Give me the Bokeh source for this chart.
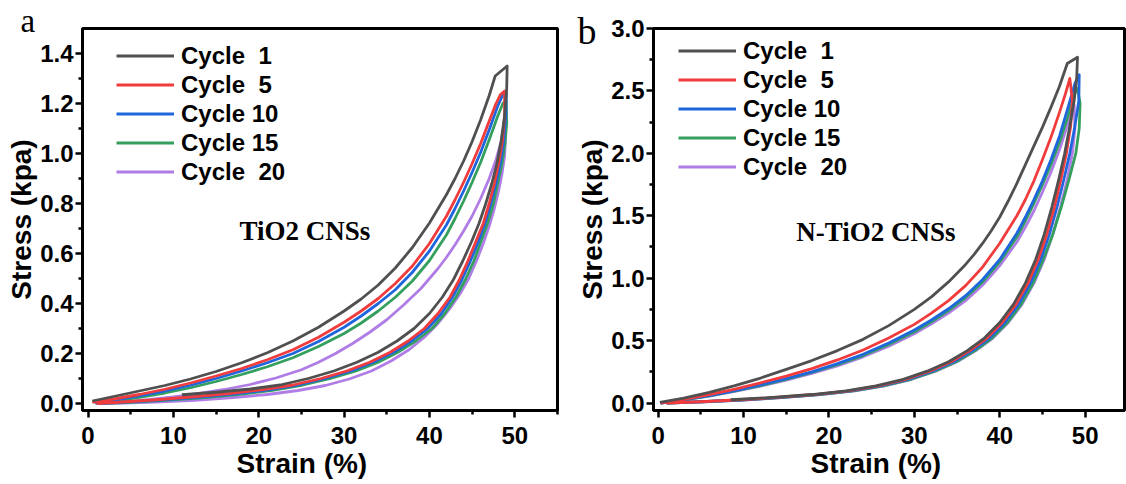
from bokeh.plotting import figure
from bokeh.models import Range1d, FixedTicker, PrintfTickFormatter, Legend, LegendItem, Label, Title
from bokeh.layouts import row
from bokeh.embed import file_html
from bokeh.resources import INLINE

cycles = ["Cycle  1", "Cycle  5", "Cycle 10", "Cycle 15", "Cycle  20"]
colors = ["#505050", "#f03c3c", "#1f66dd", "#35a05e", "#b07de6"]

# ---------- panel a : TiO2 CNSs (loading branch, then unloading branch) ----------
a1_x = [0.5, 3, 6, 9, 12, 15, 18, 21, 24, 27, 30, 32, 34, 36, 38, 40, 42, 43, 44, 45, 46, 47, 47.7, 49.1,
        49.05, 48.8, 48.4, 47.9, 47.3, 46.6, 45.8, 44.9, 43.9, 42.8, 41.5, 40.0, 38.2, 36.2, 34.0, 31.5,
        28.8, 25.8, 22.5, 19, 15, 11]
a1_y = [0.01, 0.028, 0.05, 0.072, 0.098, 0.128, 0.163, 0.203, 0.25, 0.305, 0.37, 0.418, 0.474, 0.542, 0.624,
        0.722, 0.836, 0.90, 0.97, 1.048, 1.135, 1.232, 1.31, 1.35,
        1.26, 1.15, 1.05, 0.96, 0.88, 0.80, 0.72, 0.645, 0.57, 0.495, 0.425, 0.36, 0.30, 0.25, 0.205, 0.165,
        0.13, 0.1, 0.074, 0.058, 0.045, 0.035]
a5_x = [0.5, 3, 6, 9, 12, 15, 18, 21, 24, 27, 30, 32, 34, 36, 38, 40, 42, 43, 44, 45, 46, 47, 47.8, 48.3, 48.8,
        48.8, 48.55, 48.1, 47.6, 47.0, 46.3, 45.4, 44.5, 43.5, 42.4, 41.0, 39.4, 37.5, 35.4, 33.0, 30.3,
        27.3, 24, 20.5, 16.5, 12, 8, 4, 1]
a5_y = [0.005, 0.018, 0.036, 0.057, 0.082, 0.11, 0.14, 0.175, 0.215, 0.265, 0.325, 0.37, 0.42, 0.48, 0.55,
        0.64, 0.75, 0.815, 0.885, 0.96, 1.04, 1.13, 1.2, 1.235, 1.25,
        1.15, 1.05, 0.96, 0.88, 0.80, 0.72, 0.645, 0.57, 0.495, 0.425, 0.36, 0.30, 0.25, 0.205, 0.165, 0.13,
        0.1, 0.074, 0.056, 0.04, 0.026, 0.015, 0.006, 0.0]
a10_x = [0.8, 3, 6, 9, 12, 15, 18, 21, 24, 27, 30, 32, 34, 36, 38, 40, 42, 43, 44, 45, 46, 47, 48, 48.6, 49.0,
         48.95, 48.7, 48.3, 47.8, 47.2, 46.5, 45.7, 44.8, 43.8, 42.7, 41.4, 39.8, 37.9, 35.8, 33.4, 30.8,
         27.8, 24.6, 21, 17, 12.5, 8, 4, 1]
a10_y = [0.003, 0.014, 0.031, 0.05, 0.073, 0.1, 0.13, 0.163, 0.2, 0.248, 0.305, 0.35, 0.4, 0.455, 0.525,
         0.61, 0.715, 0.78, 0.85, 0.925, 1.005, 1.095, 1.19, 1.235, 1.24,
         1.15, 1.05, 0.96, 0.88, 0.80, 0.72, 0.645, 0.57, 0.495, 0.425, 0.36, 0.30, 0.25, 0.205, 0.165, 0.13,
         0.1, 0.074, 0.054, 0.038, 0.024, 0.013, 0.005, 0.0]
a15_x = [1, 3, 6, 9, 12, 15, 18, 21, 24, 27, 30, 32, 34, 36, 38, 40, 42, 43, 44, 45, 46, 47, 48, 48.6, 49.0,
         49.05, 48.85, 48.5, 48.0, 47.5, 46.8, 46.0, 45.2, 44.2, 43.1, 41.8, 40.3, 38.4, 36.3, 34.0, 31.4,
         28.4, 25.2, 21.6, 17.5, 13, 8.5, 4.5, 1]
a15_y = [0.002, 0.01, 0.025, 0.042, 0.063, 0.088, 0.116, 0.147, 0.183, 0.228, 0.28, 0.322, 0.37, 0.425, 0.49,
         0.572, 0.675, 0.74, 0.81, 0.885, 0.965, 1.055, 1.15, 1.2, 1.21,
         1.12, 1.04, 0.96, 0.88, 0.80, 0.72, 0.645, 0.57, 0.495, 0.425, 0.36, 0.30, 0.25, 0.205, 0.165, 0.13,
         0.1, 0.074, 0.053, 0.036, 0.022, 0.012, 0.004, 0.0]
a20_x = [1, 4, 7, 10, 13, 16, 19, 22, 25, 27, 29, 31, 33, 35, 37, 39, 41, 42, 43, 44, 45, 46, 47, 47.8, 48.4, 48.8,
         48.9, 48.8, 48.5, 48.1, 47.6, 47.0, 46.3, 45.5, 44.6, 43.6, 42.4, 41.0, 39.4, 37.6, 35.5, 33.2,
         30.6, 27.8, 24.6, 21, 17, 12.5, 8, 4, 1]
a20_y = [0.0, 0.006, 0.015, 0.026, 0.04, 0.056, 0.076, 0.102, 0.135, 0.165, 0.2, 0.24, 0.285, 0.335, 0.395,
         0.46, 0.54, 0.585, 0.635, 0.69, 0.75, 0.82, 0.9, 0.975, 1.05, 1.13,
         1.06, 0.99, 0.92, 0.85, 0.78, 0.71, 0.64, 0.57, 0.50, 0.44, 0.38, 0.32, 0.265, 0.215, 0.17, 0.13,
         0.098, 0.072, 0.052, 0.036, 0.024, 0.013, 0.006, 0.002, 0.0]

# ---------- panel b : N-TiO2 CNSs ----------
b1_x = [0.2, 3, 6, 9, 12, 15, 18, 21, 24, 27, 30, 32, 34, 36, 37, 38, 39, 40, 41, 42, 43, 44, 45, 46, 47, 47.9,
        49.1,
        49.0, 48.7, 48.2, 47.6, 46.9, 46.1, 45.2, 44.2, 43.0, 41.6, 40.0, 38.2, 36.2, 34.0, 31.5, 28.7,
        25.5, 22, 18, 13, 8.5]
b1_y = [0.005, 0.04, 0.085, 0.14, 0.2, 0.27, 0.34, 0.42, 0.51, 0.62, 0.75, 0.85, 0.97, 1.11, 1.19, 1.28, 1.38,
        1.49, 1.62, 1.76, 1.91, 2.06, 2.21, 2.37, 2.54, 2.72, 2.77,
        2.6, 2.42, 2.22, 2.0, 1.79, 1.57, 1.35, 1.15, 0.96, 0.79, 0.645, 0.52, 0.42, 0.33, 0.255, 0.19,
        0.138, 0.098, 0.068, 0.043, 0.026]
b5_x = [0.3, 3, 6, 9, 12, 15, 18, 21, 24, 27, 30, 32, 34, 36, 38, 40, 42, 43, 44, 45, 46, 47, 47.7, 48.2,
        48.5, 48.3, 47.8, 47.15, 46.4, 45.5, 44.5, 43.3, 41.9, 40.3, 38.5, 36.5, 34.3, 31.8, 29,
        25.8, 22.3, 18.3, 13.5, 9, 5, 1]
b5_y = [0.0, 0.03, 0.068, 0.112, 0.162, 0.215, 0.275, 0.345, 0.425, 0.52, 0.63, 0.72, 0.82, 0.94, 1.09, 1.28,
        1.5, 1.63, 1.78, 1.95, 2.13, 2.33, 2.48, 2.6,
        2.42, 2.22, 2.0, 1.79, 1.57, 1.35, 1.15, 0.96, 0.79, 0.645, 0.52, 0.42, 0.33, 0.255, 0.19,
        0.138, 0.098, 0.068, 0.043, 0.024, 0.01, 0.0]
b10_x = [0.3, 3, 6, 9, 12, 15, 18, 21, 24, 27, 30, 32, 34, 36, 38, 40, 42, 43, 44, 45, 46, 47, 48, 48.8, 49.3,
         49.25, 48.8, 48.2, 47.5, 46.7, 45.8, 44.8, 43.6, 42.2, 40.6, 38.8, 36.8, 34.6, 32.1, 29.3,
         26.1, 22.6, 18.6, 14, 9.5, 5, 1]
b10_y = [0.0, 0.027, 0.06, 0.1, 0.145, 0.195, 0.25, 0.315, 0.39, 0.48, 0.585, 0.665, 0.755, 0.86, 0.99, 1.15,
         1.36, 1.49, 1.63, 1.78, 1.95, 2.14, 2.37, 2.56, 2.63,
         2.42, 2.22, 2.0, 1.79, 1.57, 1.35, 1.15, 0.96, 0.79, 0.645, 0.52, 0.42, 0.33, 0.255, 0.19,
         0.138, 0.098, 0.068, 0.043, 0.024, 0.01, 0.0]
b15_x = [0.3, 3, 6, 9, 12, 15, 18, 21, 24, 27, 30, 32, 34, 36, 38, 40, 42, 43, 44, 45, 46, 47, 48, 48.7, 49.1,
         49.4, 49.3, 48.9, 48.1, 47.2, 46.2, 45.1, 43.9, 42.5, 40.9, 39.1, 37.1, 34.9, 32.4, 29.6,
         26.4, 22.9, 18.9, 14.3, 9.7, 5.2, 1]
b15_y = [0.0, 0.026, 0.058, 0.097, 0.14, 0.19, 0.245, 0.308, 0.38, 0.468, 0.57, 0.65, 0.74, 0.845, 0.97, 1.13,
         1.33, 1.46, 1.6, 1.75, 1.91, 2.09, 2.3, 2.47, 2.52,
         2.4, 2.2, 2.0, 1.79, 1.57, 1.35, 1.15, 0.96, 0.79, 0.645, 0.52, 0.42, 0.33, 0.255, 0.19,
         0.138, 0.098, 0.068, 0.043, 0.024, 0.01, 0.0]
b20_x = [0.3, 3, 6, 9, 12, 15, 18, 21, 24, 27, 30, 32, 34, 36, 38, 40, 42, 43, 44, 45, 46, 47, 47.8, 48.4, 48.7,
         48.8, 48.5, 47.9, 47.1, 46.2, 45.2, 44.0, 42.6, 41.0, 39.2, 37.2, 35.0, 32.5, 29.7,
         26.5, 23, 19, 14.5, 10, 5.5, 1]
b20_y = [0.0, 0.025, 0.055, 0.093, 0.135, 0.183, 0.237, 0.298, 0.37, 0.455, 0.555, 0.635, 0.72, 0.82, 0.945,
         1.1, 1.29, 1.41, 1.54, 1.69, 1.85, 2.03, 2.2, 2.33, 2.39,
         2.2, 2.0, 1.79, 1.57, 1.35, 1.15, 0.96, 0.79, 0.645, 0.52, 0.42, 0.33, 0.255, 0.19,
         0.138, 0.098, 0.068, 0.043, 0.024, 0.01, 0.0]

x_ticks = [0, 10, 20, 30, 40, 50]
x_minor = [5, 15, 25, 35, 45, 55]
a_yticks = [0.0, 0.2, 0.4, 0.6, 0.8, 1.0, 1.2, 1.4]
a_yminor = [0.1, 0.3, 0.5, 0.7, 0.9, 1.1, 1.3]
b_yticks = [0.0, 0.5, 1.0, 1.5, 2.0, 2.5, 3.0]
b_yminor = [0.25, 0.75, 1.25, 1.75, 2.25, 2.75]

SANS = "Liberation Sans"
SERIF = "Liberation Serif"


def panel(series, xr, yr, yt, ym, frame_w, br, leg_xy, note, note_xy, letter, letter_cfg, xlab_off):
    p = figure(frame_width=frame_w, frame_height=382, x_range=Range1d(*xr), y_range=Range1d(*yr),
               output_backend="svg", toolbar_location=None,
               min_border_left=82, min_border_right=br, min_border_top=28, min_border_bottom=0)
    p.grid.visible = False
    p.outline_line_color = "black"
    p.outline_line_width = 3
    p.outline_line_alpha = 1
    p.background_fill_color = "white"
    p.border_fill_color = "white"

    rends = [None] * len(series)
    for i in reversed(range(len(series))):
        xs, ys = series[i]
        rends[i] = p.line(xs, ys, line_color=colors[i], line_width=2.8, line_join="round")

    items = [LegendItem(label=cycles[i], renderers=[rends[i]]) for i in range(len(series))]
    leg = Legend(items=items, location=leg_xy, padding=0, margin=0, spacing=0,
                 label_height=29, glyph_height=29, glyph_width=58, label_standoff=7,
                 label_text_font=SANS, label_text_font_style="bold", label_text_font_size="24px",
                 label_text_color="black",
                 background_fill_alpha=0, border_line_alpha=0)
    p.add_layout(leg)

    p.xaxis.ticker = FixedTicker(ticks=x_ticks, minor_ticks=x_minor)
    p.yaxis.ticker = FixedTicker(ticks=yt, minor_ticks=ym)
    p.yaxis.formatter = PrintfTickFormatter(format="%.1f")
    p.yaxis.axis_label = "Stress (kpa)"
    for ax in (p.xaxis[0], p.yaxis[0]):
        ax.axis_line_width = 3
        ax.axis_line_color = "black"
        ax.major_tick_line_width = 2.5
        ax.minor_tick_line_width = 2.5
        ax.major_tick_line_color = "black"
        ax.minor_tick_line_color = "black"
        ax.major_tick_out = 7
        ax.major_tick_in = 0
        ax.minor_tick_out = 4
        ax.minor_tick_in = 0
        ax.major_label_text_font = SANS
        ax.major_label_text_font_style = "bold"
        ax.major_label_text_font_size = "24px"
        ax.major_label_text_color = "black"
        ax.axis_label_text_font = SANS
        ax.axis_label_text_font_style = "bold"
        ax.axis_label_text_font_size = "28px"
        ax.axis_label_text_color = "black"
    p.xaxis.major_label_standoff = 9
    p.yaxis.major_label_standoff = 2
    p.yaxis.axis_label_standoff = 0

    p.add_layout(Title(text="Strain (%)", align="left", offset=xlab_off, vertical_align="top", standoff=2,
                       text_font=SANS, text_font_style="bold", text_font_size="28px",
                       text_color="black"), "below")
    off, so, fs = letter_cfg
    p.add_layout(Title(text=letter, align="left", offset=off, vertical_align="bottom",
                       standoff=so, text_font=SERIF, text_font_style="normal",
                       text_font_size=fs, text_color="black"), "above")

    p.add_layout(Label(x=note_xy[0], y=note_xy[1], text=note, text_font=SERIF, text_font_style="bold",
                       text_font_size="27px", text_color="black",
                       text_align="center", text_baseline="middle"))
    return p


pa = panel([(a1_x, a1_y), (a5_x, a5_y), (a10_x, a10_y), (a15_x, a15_y), (a20_x, a20_y)],
           (-0.65, 55), (-0.028, 1.5), a_yticks, a_yminor, 475, 14, (34, 224),
           "TiO2 CNSs", (25.4, 0.69), "a", (-62, -20, "33px"), 154)
pb = panel([(b1_x, b1_y), (b5_x, b5_y), (b10_x, b10_y), (b15_x, b15_y), (b20_x, b20_y)],
           (-0.54, 54.6), (-0.06, 3.0), b_yticks, b_yminor, 471, 2, (25, 229),
           "N-TiO2 CNSs", (25.5, 1.37), "b", (-76, -46, "38px"), 157)

layout = row(pa, pb)
open("out.html", "w").write(file_html(layout, INLINE))
